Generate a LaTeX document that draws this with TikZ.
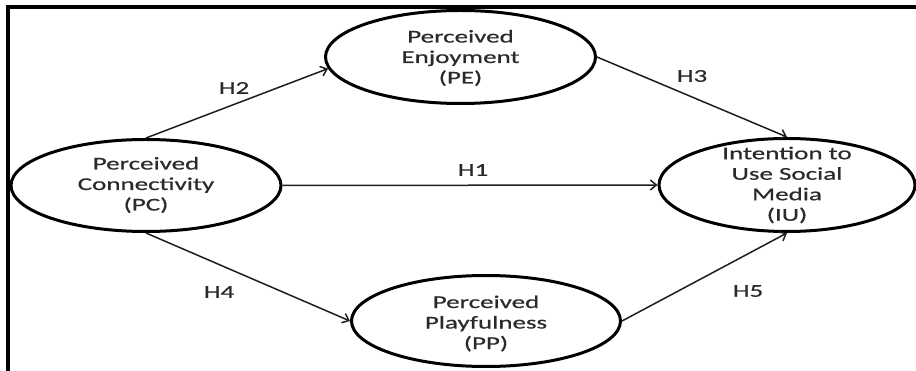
\documentclass[tikz,border=0pt]{standalone}
\usepackage{fontspec}
\setmainfont{Carlito}[FakeStretch=1.5,FakeBold=0.6]
\usetikzlibrary{shapes.geometric,arrows.meta}
\definecolor{txt}{HTML}{2A2A2A}
\definecolor{lnc}{HTML}{1E1E1E}
\begin{document}
\begin{tikzpicture}[x=1pt,y=-1pt,
  construct/.style={ellipse, draw=black, line width=3pt, inner sep=0pt},
  ctext/.style={font=\fontsize{18}{20.5}\selectfont, text=txt, align=center, inner sep=0pt},
  hyp/.style={draw=lnc, line width=1.5pt, -{Straight Barb[length=6pt,width=10pt]}},
  hlab/.style={font=\fontsize{18}{20.5}\selectfont, text=txt, inner sep=0pt}]
\useasboundingbox (0,0) rectangle (916,371);
\clip (0,0) rectangle (916,371);
% frame
\draw[line width=3.5pt] (8,400) -- (8,7) -- (950,7);
% constructs
\node[construct, minimum width=270pt, minimum height=92pt] (PC) at (146,185.5) {};
\node[construct, minimum width=270pt, minimum height=93pt] (PE) at (460.5,57) {};
\node[construct, minimum width=256pt, minimum height=93pt] (IU) at (787,185) {};
\node[construct, minimum width=269pt, minimum height=91pt] (PP) at (486,321) {};
% texts
\node[ctext] (PCt) at (146,185) {Perceived\\Connectivity\\(PC)};
\node[ctext] (PEt) at (460.5,58) {Perceived\\Enjoyment\\(PE)};
\node[ctext] (IUt) at (787,185) {Intention to\\Use Social\\Media\\(IU)};
\node[ctext] (PPt) at (486,323.5) {Perceived\\Playfulness\\(PP)};
% hypotheses
\draw[hyp] (PC.east) -- (IU.west);
\draw[hyp] (PC.north) -- (PE.185);
\draw[hyp] (PE.east) -- (IU.north);
\draw[hyp] (PC.south) -- (PP.west);
\draw[hyp] (PP.east) -- (IU.south);
% labels
\node[hlab] (H1) at (473,170) {H1};
\node[hlab] (H2) at (234,88) {H2};
\node[hlab] (H3) at (692,76) {H3};
\node[hlab] (H4) at (219,292) {H4};
\node[hlab] (H5) at (748,291) {H5};
\end{tikzpicture}
\end{document}
